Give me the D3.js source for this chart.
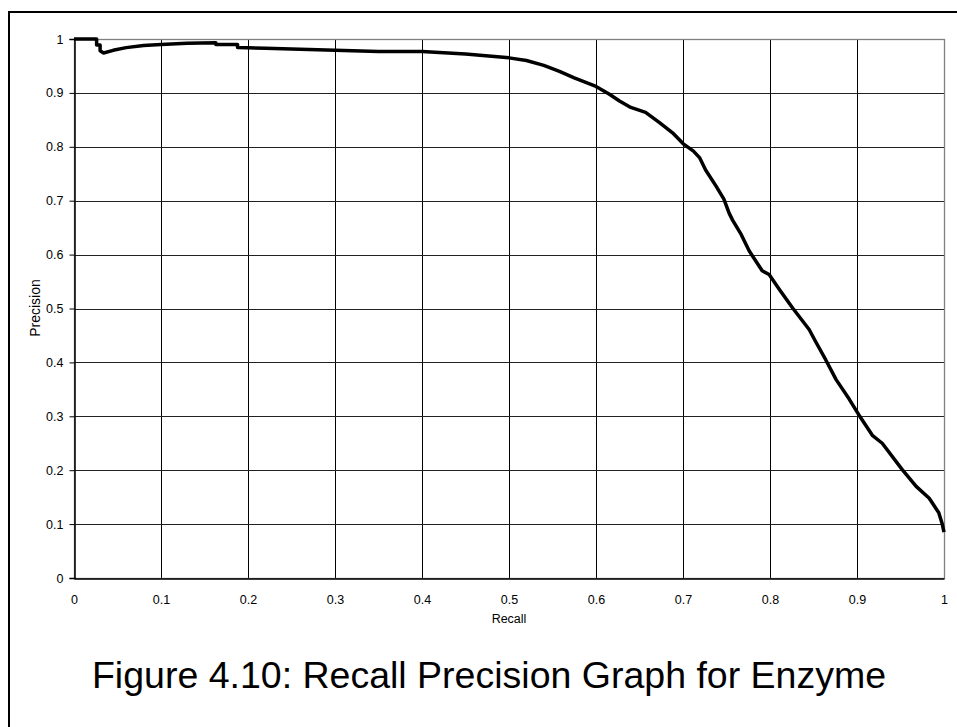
<!DOCTYPE html>
<html>
<head>
<meta charset="utf-8">
<script src="https://cdn.jsdelivr.net/npm/d3@7"></script>
<style>
  body { margin: 0; background: #fff; }
  svg { display: block; font-family: Arial, "Liberation Sans", sans-serif; }
</style>
</head>
<body>
<svg id="chart" width="957" height="727"></svg>
<script>
// recall / precision points
const recall = [0, 0.026, 0.026, 0.030, 0.030, 0.034, 0.045, 0.06, 0.08, 0.1, 0.13, 0.163, 0.163, 0.188, 0.188,
  0.22, 0.26, 0.3, 0.35, 0.4, 0.42, 0.45, 0.48, 0.5, 0.52, 0.54, 0.558, 0.575, 0.6, 0.615, 0.627, 0.64,
  0.657, 0.673, 0.688, 0.700, 0.712, 0.719, 0.726, 0.738, 0.747, 0.753, 0.757, 0.767, 0.776, 0.791, 0.799,
  0.811, 0.826, 0.845, 0.853, 0.864, 0.876, 0.891, 0.902, 0.918, 0.929, 0.952, 0.968, 0.983, 0.994, 0.998, 1.0];
const precision = [1, 1, 0.989, 0.989, 0.978, 0.974, 0.979, 0.984, 0.988, 0.990, 0.992, 0.993, 0.990, 0.990, 0.984,
  0.983, 0.981, 0.979, 0.977, 0.977, 0.975, 0.972, 0.968, 0.965, 0.960, 0.951, 0.940, 0.928, 0.912, 0.898, 0.885, 0.873,
  0.864, 0.845, 0.826, 0.806, 0.792, 0.780, 0.757, 0.727, 0.703, 0.677, 0.664, 0.637, 0.607, 0.570, 0.563,
  0.535, 0.501, 0.461, 0.437, 0.405, 0.368, 0.332, 0.303, 0.264, 0.250, 0.201, 0.170, 0.148, 0.121, 0.100, 0.085];
const xTicks = [0, 0.1, 0.2, 0.3, 0.4, 0.5, 0.6, 0.7, 0.8, 0.9, 1];
const yTicks = [0, 0.1, 0.2, 0.3, 0.4, 0.5, 0.6, 0.7, 0.8, 0.9, 1];

const svg = d3.select("#chart");
const plot = { left: 74, top: 39, right: 944, bottom: 578 };

// outer frame (only left/top edges fall inside the window)
svg.append("rect")
  .attr("x", 9).attr("y", 12)
  .attr("width", 1000).attr("height", 800)
  .attr("fill", "none").attr("stroke", "#000").attr("stroke-width", 2);

const x = d3.scaleLinear().domain([0, 1]).range([plot.left, plot.right]);
const y = d3.scaleLinear().domain([0, 1]).range([plot.bottom, plot.top]);

// grid
svg.append("g").selectAll("line")
  .data(xTicks.slice(1))
  .join("line")
  .attr("x1", d => Math.round(x(d)) + 0.5).attr("x2", d => Math.round(x(d)) + 0.5)
  .attr("y1", plot.top).attr("y2", plot.bottom)
  .attr("stroke", "#000").attr("stroke-width", 1);

svg.append("g").selectAll("line")
  .data(yTicks.slice(1))
  .join("line")
  .attr("x1", plot.left).attr("x2", plot.right)
  .attr("y1", d => Math.round(y(d)) + 0.5).attr("y2", d => Math.round(y(d)) + 0.5)
  .attr("stroke", "#222").attr("stroke-width", 1);

svg.append("rect")
  .attr("x", plot.left + 0.5).attr("y", plot.top + 0.5)
  .attr("width", plot.right - plot.left).attr("height", plot.bottom - plot.top)
  .attr("fill", "none").attr("stroke", "#808080").attr("stroke-width", 1.3);

// axes
const xAxis = d3.axisBottom(x).tickValues(xTicks).tickSize(0).tickPadding(17)
  .tickFormat(d => d3.format("")(d));
const yAxis = d3.axisLeft(y).tickValues(yTicks).tickSize(5).tickPadding(6)
  .tickFormat(d => d3.format("")(d));

const gx = svg.append("g")
  .attr("transform", `translate(0,${plot.bottom + 0.5})`)
  .call(xAxis);
const gy = svg.append("g")
  .attr("transform", `translate(${plot.left + 0.5},0)`)
  .call(yAxis);

[gx, gy].forEach(g => {
  g.select(".domain").attr("stroke", "#000").attr("stroke-width", 1.5);
  g.selectAll(".tick line").attr("stroke", "#000");
  g.selectAll("text")
    .attr("font-family", "Arial, 'Liberation Sans', sans-serif")
    .attr("font-size", 12.5).attr("fill", "#000");
});

// curve
const pts = recall.map((r, i) => [r, precision[i]]);
svg.append("path")
  .datum(pts)
  .attr("fill", "none")
  .attr("stroke", "#000")
  .attr("stroke-width", 3.5)
  .attr("stroke-linejoin", "round")
  .attr("d", d3.line().x(d => x(d[0])).y(d => y(d[1])));

// labels
svg.append("text")
  .attr("x", x(0.5)).attr("y", 623)
  .attr("text-anchor", "middle")
  .attr("font-size", 12.5)
  .text("Recall");

svg.append("text")
  .attr("transform", "translate(40,308) rotate(-90)")
  .attr("text-anchor", "middle")
  .attr("font-size", 14)
  .text("Precision");

svg.append("text")
  .attr("x", 489).attr("y", 688)
  .attr("text-anchor", "middle")
  .attr("font-size", 37.5)
  .text("Figure 4.10: Recall Precision Graph for Enzyme");
</script>
</body>
</html>
